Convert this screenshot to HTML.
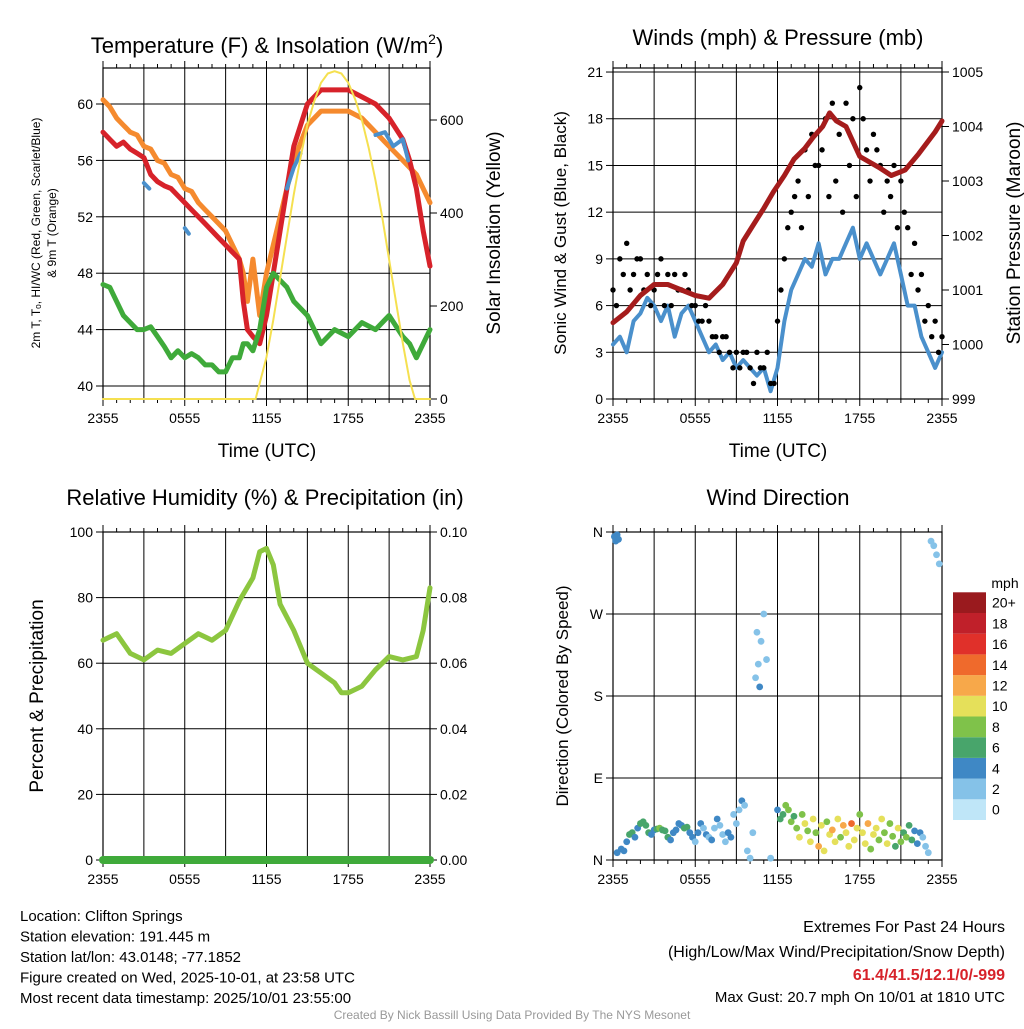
<!DOCTYPE html>
<html><head><meta charset="utf-8"><style>
body{margin:0;background:#fff;font-family:"Liberation Sans",sans-serif}
svg text{font-family:"Liberation Sans",sans-serif}
</style></head><body>
<svg id="s" width="1024" height="1024" xmlns="http://www.w3.org/2000/svg"></svg>
<script>
// ---- data ----
const hrs=[0,0.5,1,1.5,2,2.5,3,3.5,4,4.5,5,5.5,6,6.5,7,7.5,8,8.5,9,9.5,10,10.3,10.6,11,11.5,12,12.5,13,13.5,14,15,16,17,18,19,20,21,22,22.5,23,23.5,24];
const tempRed=[58,57.5,57,57.3,56.8,56.5,56.2,55,54.5,54.2,54,53.5,53,52.5,52,51.5,51,50.5,50,49.5,49,46,44,43.5,43,45,48,51,54,57,60,61,61,61,60.5,60,59,57.5,56,54,51,48.5];
const temp9m=[60.3,59.8,59,58.5,58,57.8,57,56.8,56,55.8,55,54.8,54,53.8,53,52.5,52,51.5,51,50,49,48,46,49,45,48,50,52,54,56,58.5,59.5,59.5,59.5,59,58,57,56,55.5,55,54,53];
const dewGreen=[47.2,47,46,45,44.5,44,44,44.2,43.5,42.8,42,42.5,42,42.3,42,41.5,41.5,41,41,42,42,43,43,42.5,44,47,48,47.5,47,46,45,43,44,43.5,44.5,44,45,43.5,43,42,43,44];
const solarHrs=[0,11.2,12,12.5,13,13.5,14,14.5,15,15.5,16,16.5,17,17.5,18,18.5,19,19.5,20,20.5,21,21.5,22,22.5,22.9,24];
const solar=[0,0,90,170,260,350,440,520,590,640,680,700,705,700,680,645,600,540,470,390,300,210,120,40,0,0];
const hiwcHrs=[3,3.4,null,6,6.3,null,13.5,14,14.5,null,20,20.7,21.3,22,22.4];
const hiwc=[54.4,54,null,51.2,50.8,null,54,55.5,56.5,null,57.8,58,57,57.5,56];
const windHrs=[0,0.5,1,1.5,2,2.5,3,3.5,4,4.5,5,5.5,6,6.5,7,7.5,8,8.5,9,9.5,10,10.5,11,11.5,12,12.5,13,13.5,14,14.5,15,15.5,16,16.5,17,17.5,18,18.5,19,19.5,20,20.5,21,21.5,22,22.5,23,23.5,24];
const wind=[3.5,4,3,5,5.5,6.5,6,5,6,4,5.5,6,5,4,3,3.5,2.5,3,2,2.5,2,1.5,2,0.5,2,5,7,8,9,8.5,10,8,9,9,10,11,9,10,9,8,9,10,8,6,6,4,3,2,3];
const gust=[7,9,10,8,9,8,7,9,8,8,7,7,6,5,5,4,4,3,3,3,2,3,2,1,5,9,12,14,16,17,15,18,19,17,19,18,20,16,17,15,14,15,14,11,10,8,6,5,4];
const gust2=[6,8,7,9,7,6,8,6,6,7,8,6,5,6,4,3,4,2,2,3,1,2,3,1,7,11,13,11,13,15,16,13,14,12,15,13,18,14,16,12,13,11,12,8,7,5,4,3];
const presHrs=[0,1,2,3,4,5,6,7,8,9,9.5,10,11,11.7,12.5,13.2,14,14.6,15.3,15.8,16.3,17,18,19.4,20.3,21.3,22.3,23.5,24];
const pressure=[1000.4,1000.6,1000.9,1001.1,1001.1,1001.0,1000.9,1000.85,1001.1,1001.5,1001.9,1002.1,1002.5,1002.8,1003.1,1003.4,1003.6,1003.8,1004.0,1004.25,1004.1,1004.0,1003.45,1003.25,1003.1,1003.2,1003.5,1003.9,1004.1];
const rhHrs=[0,1,2,3,4,5,6,7,8,9,10,11,11.5,12,12.5,13,14,15,16,17,17.5,18,19,20,21,22,23,23.5,24];
const rh=[67,69,63,61,64,63,66,69,67,70,79,86,94,95,90,78,70,60,57,54,51,51,53,58,62,61,62,70,83];
const dirHrs=[0.1,0.2,0.3,0.4,0.3,0.6,0.8,1.0,1.2,1.4,1.6,1.8,2.0,2.2,2.4,2.6,2.8,3.0,3.2,3.4,3.6,3.8,4.0,4.2,4.4,4.6,4.8,5.0,5.2,5.4,5.6,5.8,6.0,6.2,6.4,6.6,6.8,7.0,7.2,7.4,7.6,7.8,8.0,8.2,8.4,8.6,8.8,9.0,9.2,9.4,9.6,9.8,10.0,10.2,10.4,10.6,10.8,11.0,11.2,10.5,10.7,11.5,12.0,12.2,12.4,12.6,12.8,13.0,13.2,13.4,13.6,13.8,14.0,14.2,14.4,14.6,14.8,15.0,15.2,15.4,15.6,15.8,16.0,16.2,16.4,16.6,16.8,17.0,17.2,17.4,17.6,17.8,18.0,18.2,18.4,18.6,18.8,19.0,19.2,19.4,19.6,19.8,20.0,20.2,20.4,20.6,20.8,21.0,21.2,21.4,21.6,21.8,22.0,22.2,22.4,22.6,22.8,23.0,23.2,23.4,23.6,23.8];
const dirDeg=[355,350,357,352,8,12,10,20,28,30,25,35,40,42,38,30,28,33,34,35,33,32,25,22,30,33,40,38,35,36,30,25,20,30,40,35,28,25,22,35,45,38,28,20,30,25,50,40,55,65,60,10,2,30,200,215,240,270,220,250,190,2,55,45,50,60,55,42,48,35,25,50,40,32,20,45,30,15,38,10,42,28,33,20,45,25,38,30,15,40,22,35,50,30,18,40,12,28,35,22,45,30,18,40,26,15,35,20,30,25,38,22,32,18,30,25,15,8,350,345,335,325,315];
const dirSpd=[4,3,4,3,4,3,4,4,5,6,4,4,5,6,6,5,4,4,6,7,6,6,5,4,4,4,4,4,5,5,4,3,2,3,4,2,3,2,3,2,3,2,2,2,3,3,2,2,1,3,2,1,1,1,2,2,2,2,1,2,3,1,4,5,6,7,8,7,6,8,9,7,10,8,9,10,8,11,9,10,8,10,12,9,10,8,11,9,10,13,9,10,8,10,9,11,8,9,10,7,9,8,10,7,8,6,9,7,6,8,5,6,4,4,4,2,2,1,2,1,2,2];
const spdLevels=['0','2','4','6','8','10','12','14','16','18','20+'];
const spdColors=['#bfe6f8','#85c2e8','#3f88c5','#48a56b','#7fc24a','#e5e05a','#f7a84a','#ef6a2c','#e0302a','#c0202a','#9a1a1e'];
const xTicks=['2355','0555','1155','1755','2355'];

const S=document.getElementById('s');
function el(t,a,p){const e=document.createElementNS('http://www.w3.org/2000/svg',t);for(const k in a)e.setAttribute(k,a[k]);(p||S).appendChild(e);return e;}
function txt(x,y,s,o,p){o=o||{};const e=el('text',Object.assign({x:x,y:y,'font-size':o.fs||14,'text-anchor':o.a||'middle',fill:o.c||'#000'},o.tr?{transform:o.tr}:{},o.fw?{'font-weight':o.fw}:{}),p);e.textContent=s;return e;}
function panel(name,x0,y0,x1,y1){
  const g=el('g',{});
  
  
  const xs=h=>x0+(x1-x0)*h/24;
  for(let h=3;h<24;h+=3) el('line',{x1:xs(h),x2:xs(h),y1:y0,y2:y1,stroke:'#000','stroke-width':1},g);
  el('rect',{x:x0,y:y0,width:x1-x0,height:y1-y0,fill:'none',stroke:'#000','stroke-width':1.2},g);
  for(let h=0;h<=24;h+=1){const L=h%6==0?7:4;el('line',{x1:xs(h),x2:xs(h),y1:y1,y2:y1+L,stroke:'#000'},g);el('line',{x1:xs(h),x2:xs(h),y1:y0,y2:y0-L,stroke:'#000'},g);}
  xTicks.forEach((t,i)=>txt(xs(i*6),y1+24,t,{fs:14},g));
  return {g,xs};
}
function yaxis(P,x0,x1,yv,ticks,labels,right,grid){
  ticks.forEach((v,i)=>{const y=yv(v);
    if(grid) el('line',{x1:x0,x2:x1,y1:y,y2:y,stroke:'#000'},P.g);
    if(!right){el('line',{x1:x0-7,x2:x0,y1:y,y2:y,stroke:'#000'},P.g);txt(x0-10,y+5,labels[i],{a:'end',fs:14},P.g);}
    else{el('line',{x1:x1,x2:x1+7,y1:y,y2:y,stroke:'#000'},P.g);txt(x1+10,y+5,labels[i],{a:'start',fs:14},P.g);}
  });
}
function line(P,xsArr,ys,xf,yf,color,w,name){
  let d='',pen=false;
  xsArr.forEach((h,i)=>{if(h===null||ys[i]===null){pen=false;return;}d+=(pen?'L':'M')+xf(h).toFixed(1)+','+yf(ys[i]).toFixed(1);pen=true;});
  const e=el('path',{d:d,fill:'none',stroke:color,'stroke-width':w,'stroke-linejoin':'round','stroke-linecap':'round'},P.g);
  
  
}

// ---- Panel 1 ----
{const x0=103,x1=430,y0=68,y1=399;const P=panel('temperature-panel',x0,y0,x1,y1);
 const yT=v=>386-(v-40)*14.1, yS=v=>399-v*0.465;
 yaxis(P,x0,x1,yT,[40,44,48,52,56,60],['40','44','48','52','56','60'],false,true);
 yaxis(P,x0,x1,yS,[0,200,400,600],['0','200','400','600'],true,false);
 line(P,hrs,temp9m,P.xs,yT,'#f58a2e',5,'temp-9m-line');
 line(P,hrs,tempRed,P.xs,yT,'#d7222a',5,'temp-2m-line');
 line(P,hiwcHrs,hiwc,P.xs,yT,'#4a90cc',4,'heat-index-line');
 line(P,hrs,dewGreen,P.xs,yT,'#3faa3a',5,'dewpoint-line');
 line(P,solarHrs,solar,P.xs,yS,'#f5e050',2,'solar-line');
 const t=txt(267,53,'Temperature (F) & Insolation (W/m',{fs:22});const sp=el('tspan',{dy:-9,'font-size':14},t);sp.textContent='2';const sp2=el('tspan',{dy:9},t);sp2.textContent=')';
 
 txt(267,457,'Time (UTC)',{fs:19});
 txt(0,0,'2m T, T\u2092, HI/WC (Red, Green, Scarlet/Blue)',{fs:12,tr:'translate(40,233) rotate(-90)'});
 txt(0,0,'& 9m T (Orange)',{fs:12,tr:'translate(56,233) rotate(-90)'});
 txt(0,0,'Solar Insolation (Yellow)',{fs:19,tr:'translate(500,233) rotate(-90)'});
}
// ---- Panel 2 ----
{const x0=613,x1=942,y0=68,y1=399;const P=panel('winds-panel',x0,y0,x1,y1);
 const yW=v=>399-v*15.57, yP=v=>399-(v-999)*54.5;
 yaxis(P,x0,x1,yW,[0,3,6,9,12,15,18,21],['0','3','6','9','12','15','18','21'],false,true);
 yaxis(P,x0,x1,yP,[999,1000,1001,1002,1003,1004,1005],['999','1000','1001','1002','1003','1004','1005'],true,false);
 line(P,windHrs,wind,P.xs,yW,'#4a90cc',4,'wind-speed-line');
 gust.forEach((v,i)=>{const c=el('circle',{cx:P.xs(i*0.5),cy:yW(v),r:2.7,fill:'#000'},P.g);
  
  });
 gust2.forEach((v,i)=>{const c=el('circle',{cx:P.xs(i*0.5+0.25),cy:yW(v),r:2.7,fill:'#000'},P.g);
  
  });
 line(P,presHrs,pressure,P.xs,yP,'#a51c1c',5,'pressure-line');
 txt(778,45,'Winds (mph) & Pressure (mb)',{fs:22});
 txt(778,457,'Time (UTC)',{fs:19});
 txt(0,0,'Sonic Wind & Gust (Blue, Black)',{fs:17,tr:'translate(566,233) rotate(-90)'});
 txt(0,0,'Station Pressure (Maroon)',{fs:19,tr:'translate(1020,233) rotate(-90)'});
}
// ---- Panel 3 ----
{const x0=103,x1=430,y0=532,y1=860;const P=panel('humidity-panel',x0,y0,x1,y1);
 const yR=v=>860-v*3.28, yPr=v=>860-v*3280;
 yaxis(P,x0,x1,yR,[0,20,40,60,80,100],['0','20','40','60','80','100'],false,true);
 yaxis(P,x0,x1,yPr,[0,0.02,0.04,0.06,0.08,0.1],['0.00','0.02','0.04','0.06','0.08','0.10'],true,false);
 line(P,rhHrs,rh,P.xs,yR,'#8cc63f',5,'rh-line');
 line(P,[0,24],[0,0],P.xs,yPr,'#3faa3a',8,'precip-line');
 txt(265,505,'Relative Humidity (%) & Precipitation (in)',{fs:22});
 txt(0,0,'Percent & Precipitation',{fs:19,tr:'translate(43,696) rotate(-90)'});
}
// ---- Panel 4 ----
{const x0=613,x1=942,y0=532,y1=860;const P=panel('wind-direction-panel',x0,y0,x1,y1);
 const yD=v=>860-v*(328/360);
 yaxis(P,x0,x1,yD,[0,90,180,270,360],['N','E','S','W','N'],false,true);
 dirHrs.forEach((h,i)=>{const k=Math.min(10,Math.round((dirSpd[i]||2)/2));
  const c=el('circle',{cx:P.xs(h),cy:yD(dirDeg[i]),r:3.4,fill:spdColors[k]||spdColors[1]},P.g);
  
  });
 txt(778,505,'Wind Direction',{fs:22});
 txt(0,0,'Direction (Colored By Speed)',{fs:17,tr:'translate(568,696) rotate(-90)'});
 const lg=el('g',{});
 txt(1005,588,'mph',{fs:14},lg);
 const bh=20.7;
 spdColors.forEach((c,i)=>{const y=820-(i+1)*bh;el('rect',{x:953,y:y,width:33,height:bh,fill:c},lg);txt(992,y+bh/2+5,spdLevels[i],{a:'start',fs:14},lg);});
}
// ---- footer ----
const foot=['Location: Clifton Springs','Station elevation: 191.445 m','Station lat/lon: 43.0148; -77.1852','Figure created on Wed, 2025-10-01, at 23:58 UTC','Most recent data timestamp: 2025/10/01 23:55:00'];
foot.forEach((s,i)=>txt(20,921+i*20.5,s,{a:'start',fs:15}));
txt(1005,932,'Extremes For Past 24 Hours',{a:'end',fs:16});
txt(1005,957,'(High/Low/Max Wind/Precipitation/Snow Depth)',{a:'end',fs:16});
txt(1005,980,'61.4/41.5/12.1/0/-999',{a:'end',fs:16,c:'#d7222a',fw:'bold'});
txt(1005,1002,'Max Gust: 20.7 mph On 10/01 at 1810 UTC',{a:'end',fs:15});
txt(512,1019,'Created By Nick Bassill Using Data Provided By The NYS Mesonet',{fs:12,c:'#999'});
</script>
</body></html>
